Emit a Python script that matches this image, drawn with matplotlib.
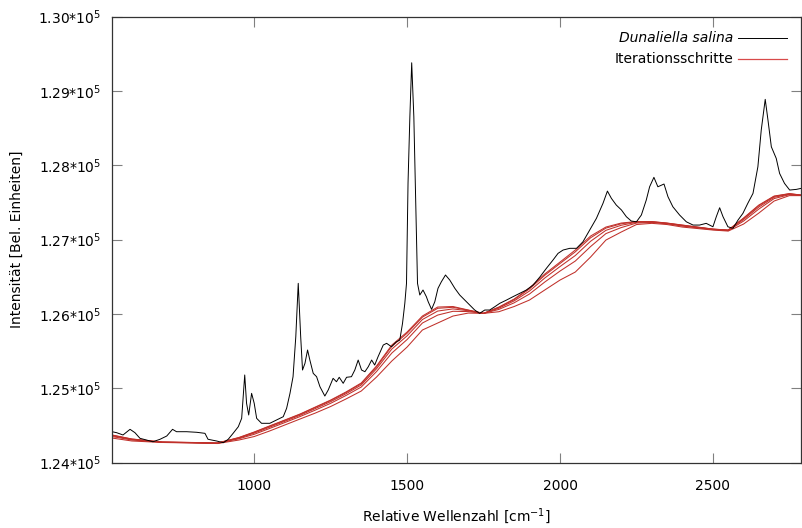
import matplotlib
matplotlib.use("Agg")
import matplotlib.pyplot as plt
from matplotlib.ticker import FixedLocator

# ---- spectrum (Dunaliella salina) ----
spec_w = [535, 550, 571, 594, 610, 626.5, 648, 669, 692, 714, 733, 746, 779, 812, 839, 849,
          877, 899, 915, 931, 948, 959, 964, 969, 975, 982, 991.5, 1000, 1008, 1024, 1051,
          1073, 1095, 1106, 1117, 1127, 1136, 1144, 1152, 1158, 1166, 1174.5, 1182, 1193,
          1204, 1215, 1231, 1242, 1258, 1269, 1278, 1291, 1302, 1318, 1329, 1340, 1351,
          1362, 1373, 1384, 1394, 1405, 1422, 1433, 1449, 1465, 1476, 1485, 1492.5, 1498,
          1503, 1509, 1515, 1522, 1528, 1534, 1541.5, 1552, 1563, 1569, 1580, 1590.5, 1601,
          1612, 1625.5, 1639.5, 1656, 1672, 1688.5, 1705, 1721, 1737, 1754, 1770, 1786.6,
          1803, 1825, 1846, 1868, 1890, 1912, 1934, 1955.5, 1977, 1993.5, 2010, 2032, 2054,
          2075, 2097, 2119, 2140.5, 2155, 2168, 2184, 2201, 2217, 2233, 2250, 2266, 2282,
          2293, 2307, 2320, 2340, 2353, 2369, 2391, 2413, 2435, 2456.5, 2478, 2500, 2511,
          2522, 2533, 2549, 2565.5, 2582, 2598, 2614, 2631, 2647, 2658, 2671, 2680, 2691,
          2707, 2718, 2734, 2751, 2773, 2789]
spec_i = [124417, 124404, 124373, 124449, 124404, 124328, 124305, 124282, 124315, 124359,
          124449, 124417, 124417, 124409, 124395, 124315, 124292, 124269, 124315, 124395,
          124484, 124597, 124888, 125180, 124799, 124642, 124933, 124799, 124597, 124530,
          124530, 124574, 124619, 124732, 124933, 125157, 125695, 126413, 125695, 125247,
          125337, 125516, 125381, 125202, 125157, 125022, 124897, 124978, 125135, 125089,
          125149, 125068, 125149, 125157, 125247, 125381, 125247, 125224, 125291, 125381,
          125314, 125426, 125583, 125606, 125560, 125627, 125650, 125875, 126144, 126413,
          127762, 128654, 129380, 128654, 127533, 126413, 126256, 126323, 126233, 126165,
          126063, 126165, 126346, 126434, 126525, 126457, 126346, 126256, 126188, 126121,
          126054, 126009, 126054, 126054, 126098, 126144, 126188, 126233, 126278, 126323,
          126390, 126498, 126615, 126726, 126816, 126861, 126884, 126884, 126972, 127130,
          127287, 127489, 127654, 127556, 127466, 127399, 127309, 127251, 127241, 127332,
          127533, 127712, 127839, 127712, 127749, 127578, 127443, 127332, 127241, 127197,
          127197, 127220, 127174, 127309, 127430, 127309, 127174, 127153, 127264, 127354,
          127489, 127623, 127981, 128475, 128888, 128609, 128250, 128094, 127892, 127758,
          127668, 127677, 127691]

# ---- baseline iterations ----
base_w = [535, 600, 700, 800, 880, 950, 1000, 1050, 1100, 1150, 1200, 1250, 1300, 1350,
          1400, 1450, 1500, 1550, 1600, 1650, 1700, 1750, 1800, 1850, 1900, 1950, 2000,
          2050, 2100, 2150, 2200, 2250, 2300, 2350, 2400, 2450, 2500, 2550, 2600, 2650,
          2700, 2750, 2790]
iter1 = [124332, 124292, 124272, 124265, 124258, 124305, 124352, 124426, 124507, 124588,
         124668, 124756, 124857, 124964, 125152, 125368, 125556, 125785, 125879, 125973,
         126013, 126009, 126031, 126101, 126188, 126323, 126457, 126565, 126767, 126995,
         127103, 127204, 127220, 127204, 127170, 127150, 127130, 127116, 127210, 127358,
         127520, 127593, 127593]
iter2 = [124352, 124305, 124275, 124268, 124261, 124322, 124382, 124460, 124540, 124621,
         124708, 124799, 124904, 125018, 125226, 125475, 125657, 125879, 125986, 126037,
         126033, 126009, 126062, 126151, 126269, 126430, 126578, 126713, 126908, 127082,
         127163, 127224, 127232, 127214, 127183, 127160, 127136, 127123, 127250, 127412,
         127553, 127606, 127596]
iter3 = [124363, 124312, 124276, 124270, 124263, 124330, 124398, 124477, 124557, 124638,
         124729, 124821, 124927, 125045, 125264, 125529, 125707, 125926, 126040, 126069,
         126044, 126009, 126078, 126177, 126309, 126484, 126639, 126787, 126979, 127126,
         127194, 127234, 127238, 127219, 127190, 127165, 127140, 127126, 127271, 127439,
         127570, 127613, 127598]
iter4 = [124370, 124317, 124278, 124271, 124264, 124336, 124408, 124489, 124569, 124650,
         124743, 124836, 124943, 125063, 125289, 125566, 125742, 125958, 126077, 126091,
         126051, 126009, 126089, 126194, 126337, 126521, 126680, 126837, 127026, 127156,
         127214, 127241, 127242, 127222, 127195, 127168, 127142, 127129, 127285, 127457,
         127582, 127618, 127599]
iter5 = [124373, 124319, 124278, 124272, 124265, 124339, 124413, 124494, 124574, 124655,
         124749, 124843, 124951, 125072, 125301, 125583, 125758, 125973, 126094, 126101,
         126054, 126009, 126094, 126202, 126350, 126538, 126699, 126861, 127049, 127170,
         127224, 127244, 127244, 127224, 127197, 127170, 127143, 127130, 127291, 127466,
         127587, 127620, 127600]
iterations = [iter1, iter2, iter3, iter4, iter5]

x_ticks = [1000, 1500, 2000, 2500]
y_ticks = [124000, 125000, 126000, 127000, 128000, 129000, 130000]
y_tick_labels = [r"1.24*10$^{5}$", r"1.25*10$^{5}$", r"1.26*10$^{5}$", r"1.27*10$^{5}$",
                 r"1.28*10$^{5}$", r"1.29*10$^{5}$", r"1.30*10$^{5}$"]

plt.rcParams['font.family'] = ['DejaVu Sans']
plt.rcParams['mathtext.fontset'] = 'dejavusans'

fig = plt.figure(figsize=(8.02, 5.28), dpi=100)
ax = fig.add_axes([112/802, 1 - 462.7/528, 689/802, (462.7 - 16.7)/528])

red = '#c0302a'
for it in iterations:
    ax.plot(base_w, it, color=red, lw=0.75)
ax.plot(spec_w, spec_i, color='black', lw=0.7)

ax.set_xlim(535, 2788)
ax.set_ylim(124000, 130000)
ax.xaxis.set_major_locator(FixedLocator(x_ticks))
ax.yaxis.set_major_locator(FixedLocator(y_ticks))
ax.set_yticklabels(y_tick_labels)
ax.tick_params(direction='in', length=7.5, width=0.8, color='#808080',
               top=True, right=True, labelsize=10, labelcolor='black')
ax.tick_params(axis='x', pad=12)
ax.tick_params(axis='y', pad=8)
for s in ax.spines.values():
    s.set_color('#333333')
    s.set_linewidth(0.9)

ax.set_xlabel(r"Relative Wellenzahl [cm$^{-1}$]", fontsize=10, labelpad=9)
ax.set_ylabel("Intensität [Bel. Einheiten]", fontsize=10, labelpad=10)

# legend (gnuplot style: text then sample)
ax.text(0.9017, 0.953, "Dunaliella salina", style='italic', ha='right', va='center',
        fontsize=10, transform=ax.transAxes)
ax.plot([0.908, 0.979], [0.953, 0.953], color='black', lw=0.7, transform=ax.transAxes)
ax.text(0.9017, 0.9045, "Iterationsschritte", ha='right', va='center',
        fontsize=10, transform=ax.transAxes)
ax.plot([0.908, 0.979], [0.9045, 0.9045], color='#d84a4a', lw=0.9, transform=ax.transAxes)

fig.savefig("out.png", dpi=100)
